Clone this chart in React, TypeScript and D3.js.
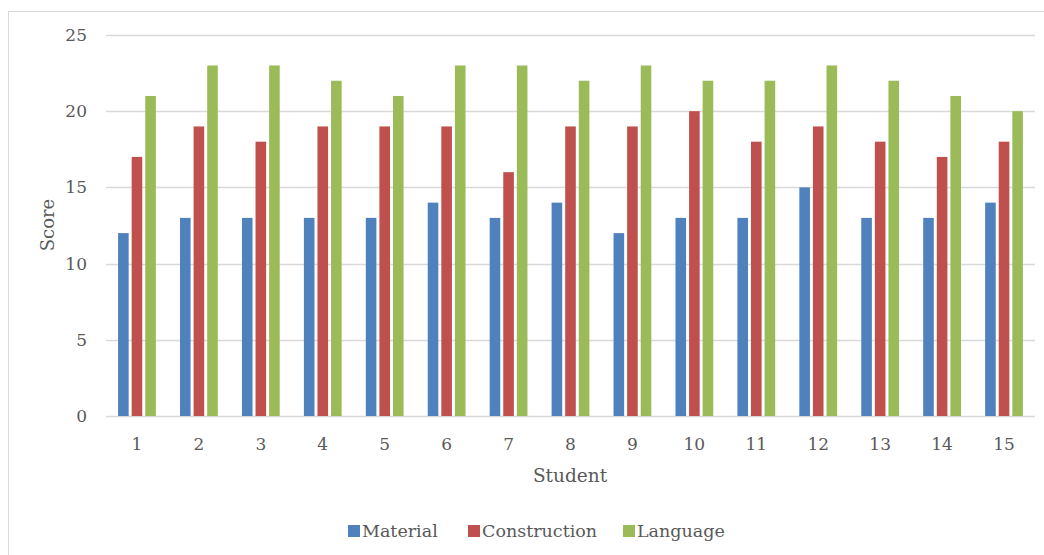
import * as d3 from 'd3';
import { useEffect, useRef } from 'react';

const students = ['1', '2', '3', '4', '5', '6', '7', '8', '9', '10', '11', '12', '13', '14', '15'];
const seriesNames = ['Material', 'Construction', 'Language'];
const material = [12, 13, 13, 13, 13, 14, 13, 14, 12, 13, 13, 15, 13, 13, 14];
const construction = [17, 19, 18, 19, 19, 19, 16, 19, 19, 20, 18, 19, 18, 17, 18];
const language = [21, 23, 23, 22, 21, 23, 23, 22, 23, 22, 22, 23, 22, 21, 20];
const yTicks = [0, 5, 10, 15, 20, 25];
const colors = ['#4F81BD', '#C0504D', '#9BBB59'];

const App = () => {
  const svgRef = useRef(null);

  useEffect(() => {
    const width = 1044;
    const height = 555;
    const font = '"DejaVu Serif", serif';
    const textColor = '#595959';
    const svg = d3.select(svgRef.current).attr('width', width).attr('height', height);
    svg.selectAll('*').remove();

    // chart frame
    svg.append('rect')
      .attr('x', 8.5).attr('y', 11.5)
      .attr('width', 1060).attr('height', 600)
      .attr('fill', 'white').attr('stroke', '#D9D9D9');

    const left = 106;
    const right = 1035;
    const top = 35;
    const bottom = 416;

    const y = d3.scaleLinear().domain([0, 25]).range([bottom, top]);
    const x0 = d3.scaleBand().domain(students).range([left, right])
      .paddingInner(0.39).paddingOuter(0.195);
    const x1 = d3.scaleBand().domain(seriesNames).range([0, x0.bandwidth()])
      .paddingInner(0.22).paddingOuter(0);

    // gridlines
    svg.append('g').selectAll('line').data(yTicks).enter().append('line')
      .attr('x1', left).attr('x2', right)
      .attr('y1', (d) => Math.round(y(d)) + 0.5).attr('y2', (d) => Math.round(y(d)) + 0.5)
      .attr('stroke', '#D9D9D9').attr('stroke-width', 1.3);

    // y tick labels
    svg.append('g').selectAll('text').data(yTicks).enter().append('text')
      .attr('x', 87).attr('y', (d) => y(d)).attr('dy', '0.35em')
      .attr('text-anchor', 'end')
      .attr('font-family', font).attr('font-size', 17).attr('fill', textColor)
      .text((d) => d);

    // bars
    const table = students.map((s, i) => ({
      student: s,
      values: [material[i], construction[i], language[i]],
    }));
    const groups = svg.append('g').selectAll('g').data(table).enter().append('g')
      .attr('transform', (d) => `translate(${x0(d.student)},0)`);
    groups.selectAll('rect')
      .data((d) => d.values.map((v, k) => ({ name: seriesNames[k], value: v, k })))
      .enter().append('rect')
      .attr('x', (d) => x1(d.name))
      .attr('width', x1.bandwidth())
      .attr('y', (d) => y(d.value))
      .attr('height', (d) => y(0) - y(d.value))
      .attr('fill', (d) => colors[d.k]);

    // x tick labels
    svg.append('g').selectAll('text').data(students).enter().append('text')
      .attr('x', (d) => x0(d) + x0.bandwidth() / 2).attr('y', 450)
      .attr('text-anchor', 'middle')
      .attr('font-family', font).attr('font-size', 17).attr('fill', textColor)
      .text((d) => d);

    // axis titles
    svg.append('text')
      .attr('transform', 'translate(54,225) rotate(-90)')
      .attr('text-anchor', 'middle')
      .attr('font-family', font).attr('font-size', 18).attr('fill', textColor)
      .text('Score');
    svg.append('text')
      .attr('x', 570).attr('y', 482)
      .attr('text-anchor', 'middle')
      .attr('font-family', font).attr('font-size', 18.5).attr('fill', textColor)
      .text('Student');

    // legend
    const legendX = [348, 468, 623];
    const legend = svg.append('g').selectAll('g').data(seriesNames).enter().append('g')
      .attr('transform', (d, i) => `translate(${legendX[i]},0)`);
    legend.append('rect')
      .attr('x', 0).attr('y', 525).attr('width', 12).attr('height', 12)
      .attr('fill', (d, i) => colors[i]);
    legend.append('text')
      .attr('x', 14).attr('y', 537)
      .attr('font-family', font).attr('font-size', 17.5).attr('fill', textColor)
      .text((d) => d);
  }, []);

  return <svg ref={svgRef} style={{ position: 'absolute', left: 0, top: 0 }} />;
};

export default App;
